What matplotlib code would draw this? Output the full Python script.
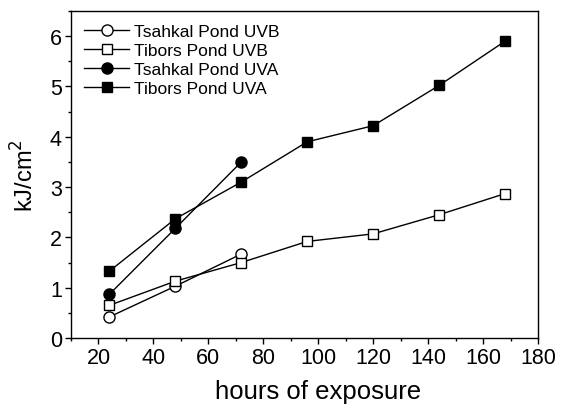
import matplotlib
matplotlib.use("Agg")
import matplotlib.pyplot as plt
from matplotlib.ticker import MultipleLocator

plt.rcParams['font.family'] = ['Liberation Sans', 'DejaVu Sans']

#Data
hours_short = [24, 48, 72]
hours_long = [24, 48, 72, 96, 120, 144, 168]
tsahkal_uvb = [0.42, 1.03, 1.67]
tibors_uvb = [0.65, 1.13, 1.50, 1.92, 2.07, 2.45, 2.87]
tsahkal_uva = [0.87, 2.18, 3.50]
tibors_uva = [1.33, 2.37, 3.10, 3.90, 4.22, 5.02, 5.90]

fig = plt.figure(figsize=(5.61, 4.06), dpi=100)
ax = fig.add_axes([71/561, 1 - 339/406, (538-71)/561, (339-12)/406])

ax.plot(hours_short, tsahkal_uvb, '-o', color='black', mfc='white', mec='black',
        ms=8, lw=1, label='Tsahkal Pond UVB')
ax.plot(hours_long, tibors_uvb, '-s', color='black', mfc='white', mec='black',
        ms=7.5, lw=1, label='Tibors Pond UVB')
ax.plot(hours_short, tsahkal_uva, '-o', color='black', ms=8, lw=1,
        label='Tsahkal Pond UVA')
ax.plot(hours_long, tibors_uva, '-s', color='black', ms=7.5, lw=1,
        label='Tibors Pond UVA')

ax.set_xlim(10, 180)
ax.set_ylim(0, 6.5)
ax.xaxis.set_major_locator(MultipleLocator(20))
ax.xaxis.set_minor_locator(MultipleLocator(10))
ax.yaxis.set_major_locator(MultipleLocator(1))
ax.yaxis.set_minor_locator(MultipleLocator(0.5))
ax.tick_params(which='major', direction='out', length=4, width=1, labelsize=15.5,
               pad=2.5)
ax.tick_params(which='minor', direction='out', length=2.5, width=1)
for s in ax.spines.values():
    s.set_linewidth(1)

ax.set_xlabel('hours of exposure', fontsize=18.5, labelpad=7)
ax.xaxis.set_label_coords(0.53, -0.125)
ax.set_ylabel('kJ/cm$^2$', fontsize=17, labelpad=8)

ax.legend(loc='upper left', frameon=False, fontsize=12.5, handlelength=2.6,
          handletextpad=0.3, labelspacing=0.22, borderaxespad=0.35,
          borderpad=0.4)

fig.savefig('out.png', dpi=100)
